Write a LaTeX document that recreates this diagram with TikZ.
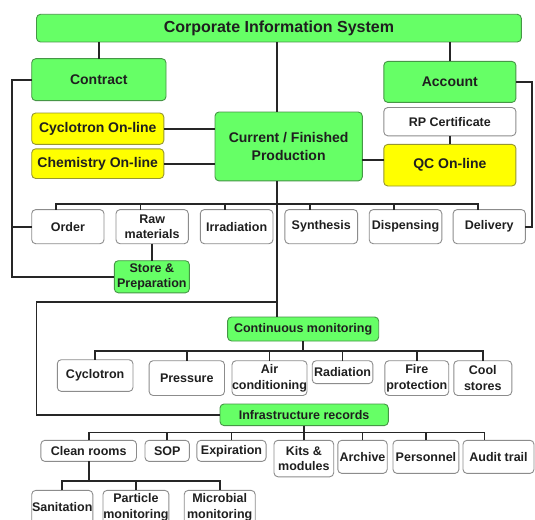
\documentclass[tikz,border=0pt]{standalone}
\usepackage{fontspec}
\setmainfont{Liberation Sans}
\usetikzlibrary{calc}
\definecolor{gfill}{RGB}{102,255,102}
\definecolor{gdraw}{RGB}{70,150,70}
\definecolor{yfill}{RGB}{255,255,0}
\definecolor{ydraw}{RGB}{150,150,50}
\definecolor{wdraw}{RGB}{140,140,140}
\newcommand\bx[7]{\node[#6, minimum width={(#4)-(#2)}, minimum height={(#5)-(#3)}] (#1) at ({((#2)+(#4))/2},{((#3)+(#5))/2}) {#7};}
\begin{document}
\begin{tikzpicture}[x=1pt,y=-1pt,
  box/.style={rounded corners=4pt, line width=0.9pt, inner sep=0pt, outer sep=0pt, align=center, text=black!88, font=\bfseries\fontsize{12.5}{15.5}\selectfont},
  gbox/.style={box, fill=gfill, draw=gdraw},
  ybox/.style={box, fill=yfill, draw=ydraw},
  wbox/.style={box, fill=white, draw=wdraw},
  med/.style={font=\bfseries\fontsize{14}{17.4}\selectfont},
  big/.style={font=\bfseries\fontsize{16}{19}\selectfont},
  conn/.style={line width=1.7pt, draw=black!85}]
\fill[white] (0,0) rectangle (535,519);
\useasboundingbox (0,0) rectangle (535,519);
% nodes
\bx{cis}{36.5}{14.3}{521.3}{42}{gbox,big}{Corporate Information System}
\bx{contract}{31.7}{58.7}{166}{100.6}{gbox,med}{Contract}
\bx{account}{383.8}{61.4}{515.9}{102.4}{gbox,med}{Account}
\bx{cyc}{31.7}{113}{163.8}{144.4}{ybox,med}{Cyclotron On-line}
\bx{chem}{31.7}{148.8}{163.8}{178.5}{ybox,med}{Chemistry On-line}
\bx{cfp}{215}{112}{362.3}{180.9}{gbox,med}{Current / Finished\\Production}
\bx{rp}{383.8}{107.5}{515.9}{135.8}{wbox}{RP Certificate}
\bx{qc}{383.8}{144.4}{515.9}{186}{ybox,med}{QC On-line}
% row 1
\bx{order}{31.7}{209.6}{104}{243.7}{wbox}{Order}
\bx{raw}{116}{209.6}{188.3}{243.7}{wbox}{Raw\\materials}
\bx{irr}{200.3}{209.6}{273}{243.7}{wbox}{Irradiation}
\bx{syn}{284.9}{209.6}{357.6}{243.7}{wbox}{Synthesis}
\bx{disp}{369.2}{209.6}{441.8}{243.7}{wbox}{Dispensing}
\bx{deliv}{453.1}{209.6}{525.4}{243.7}{wbox}{Delivery}
\bx{store}{114.3}{260.7}{189.4}{292.8}{gbox}{Store \&\\Preparation}
% continuous monitoring
\bx{cm}{227.6}{317}{378.7}{341}{gbox}{Continuous monitoring}
\bx{cyclo}{57.3}{359.7}{133}{391.4}{wbox}{Cyclotron}
\bx{press}{149.1}{360.7}{224.5}{395.5}{wbox}{Pressure}
\bx{air}{232}{360.7}{307}{395.5}{wbox}{Air\\conditioning}
\bx{rad}{312.2}{360.7}{372.9}{383.6}{wbox}{Radiation}
\bx{fire}{384.9}{360.7}{448.7}{395.5}{wbox}{Fire\\protection}
\bx{cool}{453.8}{360.7}{511.8}{395.5}{wbox}{Cool\\stores}
% infrastructure records
\bx{ir}{220}{404}{388.3}{425.6}{gbox}{Infrastructure records}
\bx{clean}{40.9}{440.3}{136.5}{461.4}{wbox}{Clean rooms}
\bx{sop}{145}{440.3}{189.4}{461.4}{wbox}{SOP}
\bx{exp}{196.9}{440.3}{266.1}{461.4}{wbox}{Expiration}
\bx{kits}{274}{440.3}{333.7}{476.8}{wbox}{Kits \&\\modules}
\bx{arch}{337.8}{440.3}{387.2}{473.4}{wbox}{Archive}
\bx{pers}{393}{440.3}{458.9}{473.4}{wbox}{Personnel}
\bx{audit}{463}{440.3}{534}{473.4}{wbox}{Audit trail}
\bx{san}{31.7}{490.4}{92.8}{524.6}{wbox}{Sanitation}
\bx{part}{103}{490.4}{168.9}{524.6}{wbox}{Particle\\monitoring}
\bx{micro}{184.2}{490.4}{255.2}{524.6}{wbox}{Microbial\\monitoring}
% helper coordinates
\coordinate (xc) at (277,0);
\coordinate (xl) at (12,0);
\coordinate (xr) at (532,0);
\coordinate (xl2) at (36.5,0);
\coordinate (xau) at (484.5,0);
\coordinate (yqc) at (0,159.7);
\coordinate (yb1) at (0,204);
\coordinate (yl2) at (0,302);
\coordinate (yb2) at (0,351.2);
\coordinate (yb3) at (0,432.4);
\coordinate (yb4) at (0,481.2);
% connectors
\draw[conn] (contract.north) -- (contract.north |- cis.south);
\draw[conn] (account.north) -- (account.north |- cis.south);
\draw[conn] (cis.south -| xc) -- (cfp.north -| xc);
\draw[conn] (cfp.south -| xc) -- (cm.north -| xc);
\draw[conn] (cyc.east) -- (cyc.east -| cfp.west);
\draw[conn] (chem.east) -- (chem.east -| cfp.west);
\draw[conn] (cfp.east |- yqc) -- (qc.west |- yqc);
\draw[conn] (rp.south) -- (qc.north);
\draw[conn] (contract.west) -- (contract.west -| xl) -- (xl |- store.west) -- (store.west);
\draw[conn] (order.west -| xl) -- (order.west);
\draw[conn] (account.east) -- (account.east -| xr) -- (xr |- deliv.east) -- (deliv.east);
\draw[conn] (raw.south) -- (raw.south |- store.north);
% bus 1
\draw[conn] let \p1=(order.north), \p2=(deliv.north), \p3=(yb1) in
  (\x1-11.6pt,\y1) -- (\x1-11.6pt,\y3) -- (\x2-11.6pt,\y3) -- (\x2-11.6pt,\y2);
\foreach \nm in {raw,irr,syn,disp}
  \draw[conn] let \p1=(\nm.north), \p3=(yb1) in (\x1-11.6pt,\y1) -- (\x1-11.6pt,\y3);
% trunk to infrastructure records
\draw[conn] (xc |- yl2) -- (xl2 |- yl2) -- (xl2 |- ir.west) -- (ir.west);
% bus 2
\draw[conn] (cm.south) -- (cm.south |- yb2);
\draw[conn] (cyclo.north) -- (cyclo.north |- yb2) -- (cool.north |- yb2) -- (cool.north);
\foreach \nm in {press,air,rad,fire}
  \draw[conn] (\nm.north) -- (\nm.north |- yb2);
% bus 3
\draw[conn] (ir.south) -- (ir.south |- yb3);
\draw[conn] (clean.north) -- (clean.north |- yb3) -- (xau |- yb3) -- (xau |- audit.north);
\foreach \nm in {sop,exp,kits,arch,pers}
  \draw[conn] (\nm.north) -- (\nm.north |- yb3);
% bus 4
\draw[conn] (clean.south) -- (clean.south |- yb4);
\draw[conn] (san.north) -- (san.north |- yb4) -- (micro.north |- yb4) -- (micro.north);
\draw[conn] (part.north) -- (part.north |- yb4);
\end{tikzpicture}
\end{document}
